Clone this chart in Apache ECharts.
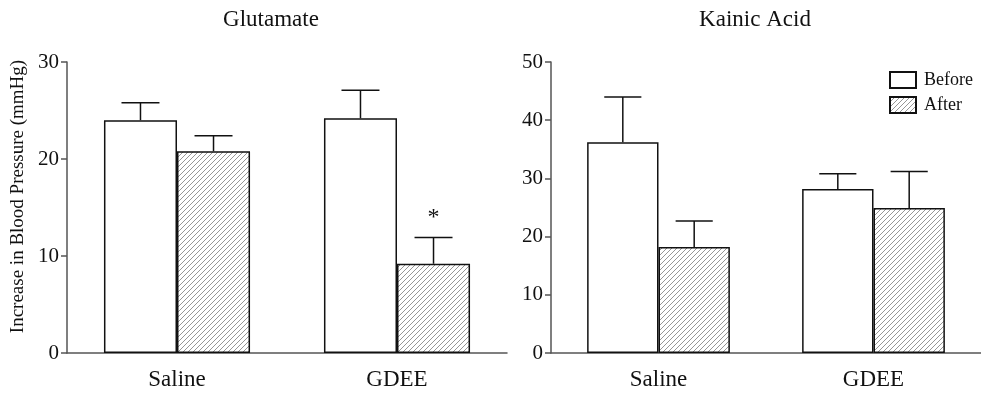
<!DOCTYPE html>
<html>
<head>
<meta charset="utf-8">
<script src="https://cdn.jsdelivr.net/npm/echarts@6/dist/echarts.min.js"></script>
<style>html,body{margin:0;padding:0;background:#fff}#c{width:981px;height:395px}</style>
</head>
<body>
<div id="c"></div>
<script>
var categories = ['Saline', 'GDEE'];
var panelTitles = ['Glutamate', 'Kainic Acid'];
var yAxisName = 'Increase in Blood Pressure (mmHg)';
var seriesNames = ['Before', 'After'];
var glutBefore = [24.0, 24.2];
var glutBeforeErr = [25.8, 27.1];
var glutAfter = [20.8, 9.2];
var glutAfterErr = [22.4, 11.9];
var glutStars = ['', '*'];
var kainBefore = [36.2, 28.2];
var kainBeforeErr = [44.0, 30.8];
var kainAfter = [18.2, 24.9];
var kainAfterErr = [22.7, 31.2];
var kainStars = ['', ''];
var leftTicks = [0, 10, 20, 30];
var rightTicks = [0, 10, 20, 30, 40, 50];

var FONT = '"Liberation Serif", "DejaVu Serif", serif';
var BAR_FRAC = 0.332;

function makeHatch() {
  var s = 5;
  var cv = document.createElement('canvas');
  cv.width = s; cv.height = s;
  var ctx = cv.getContext('2d');
  ctx.fillStyle = '#fff';
  ctx.fillRect(0, 0, s, s);
  ctx.strokeStyle = '#8a8a8a';
  ctx.lineWidth = 0.9;
  ctx.beginPath();
  ctx.moveTo(-1, s + 1); ctx.lineTo(s + 1, -1);
  ctx.moveTo(-1, 1); ctx.lineTo(1, -1);
  ctx.moveTo(s - 1, s + 1); ctx.lineTo(s + 1, s - 1);
  ctx.stroke();
  return cv;
}
var hatch = { image: makeHatch(), repeat: 'repeat' };

function errSeries(axisIdx, tops, vals, side, stars) {
  var data = tops.map(function (t, i) { return [i, vals[i], t]; });
  return {
    type: 'custom',
    xAxisIndex: axisIdx, yAxisIndex: axisIdx,
    silent: true, z: 5,
    data: data,
    renderItem: function (params, api) {
      var i = api.value(0);
      var base = api.coord([i, api.value(1)]);
      var top = api.coord([i, api.value(2)]);
      var bw = api.size([1, 0])[0] * BAR_FRAC;
      var cx = base[0] + side * bw / 2;
      var half = bw * 0.26;
      var children = [
        { type: 'line', shape: { x1: cx, y1: base[1], x2: cx, y2: top[1] }, style: { stroke: '#111', lineWidth: 1.5 } },
        { type: 'line', shape: { x1: cx - half, y1: top[1], x2: cx + half, y2: top[1] }, style: { stroke: '#111', lineWidth: 1.5 } }
      ];
      var star = stars[i];
      if (star) {
        children.push({ type: 'text', style: { text: star, x: cx, y: top[1] - 20, align: 'center', verticalAlign: 'middle', font: '24px ' + FONT, fill: '#111' } });
      }
      return { type: 'group', children: children };
    }
  };
}

function barSeries(name, axisIdx, vals, fill) {
  return {
    name: name, type: 'bar',
    xAxisIndex: axisIdx, yAxisIndex: axisIdx,
    data: vals,
    barWidth: (BAR_FRAC * 100) + '%',
    barGap: '0%',
    itemStyle: { color: fill, borderColor: '#111', borderWidth: 1.5 },
    emphasis: { disabled: true },
    z: 3
  };
}

var axisLineStyle = { color: '#555', width: 1.5 };

function xAxis(gi) {
  return {
    type: 'category', gridIndex: gi, data: categories,
    axisLine: { lineStyle: axisLineStyle },
    axisTick: { show: false },
    axisLabel: { fontFamily: FONT, fontSize: 23, color: '#111', margin: 15 }
  };
}
function yAxis(gi, ticks) {
  var o = {
    type: 'value', gridIndex: gi,
    min: ticks[0], max: ticks[ticks.length - 1], interval: ticks[1] - ticks[0],
    axisLine: { show: true, lineStyle: axisLineStyle },
    axisTick: { show: true, length: 6, lineStyle: axisLineStyle },
    splitLine: { show: false },
    axisLabel: { fontFamily: FONT, fontSize: 21, color: '#111', margin: 8 }
  };
  if (gi === 0) {
    o.name = yAxisName;
    o.nameLocation = 'middle';
    o.nameGap = 39;
    o.nameTextStyle = { fontFamily: FONT, fontSize: 19, color: '#111', padding: [0, 0, 0, 22] };
  }
  return o;
}

var chart = echarts.init(document.getElementById('c'), null, { renderer: 'canvas' });
chart.setOption({
  animation: false,
  backgroundColor: '#fff',
  title: [
    { text: panelTitles[0], left: 266, top: 3, textAlign: 'center', textStyle: { fontFamily: FONT, fontSize: 23, fontWeight: 'normal', color: '#111' } },
    { text: panelTitles[1], left: 750, top: 3, textAlign: 'center', textStyle: { fontFamily: FONT, fontSize: 23, fontWeight: 'normal', color: '#111' } }
  ],
  legend: {
    data: seriesNames,
    orient: 'vertical', left: 884, top: 66,
    itemWidth: 26, itemHeight: 16, itemGap: 7,
    icon: 'rect',
    selectedMode: false,
    textStyle: { fontFamily: FONT, fontSize: 18, color: '#111', padding: [0, 0, 0, 3] }
  },
  grid: [
    { left: 67, top: 62, width: 440, height: 291 },
    { left: 551, top: 62, width: 438, height: 291 }
  ],
  xAxis: [xAxis(0), xAxis(1)],
  yAxis: [yAxis(0, leftTicks), yAxis(1, rightTicks)],
  series: [
    barSeries(seriesNames[0], 0, glutBefore, '#fff'),
    barSeries(seriesNames[1], 0, glutAfter, hatch),
    barSeries(seriesNames[0], 1, kainBefore, '#fff'),
    barSeries(seriesNames[1], 1, kainAfter, hatch),
    errSeries(0, glutBeforeErr, glutBefore, -1, ['', '']),
    errSeries(0, glutAfterErr, glutAfter, 1, glutStars),
    errSeries(1, kainBeforeErr, kainBefore, -1, ['', '']),
    errSeries(1, kainAfterErr, kainAfter, 1, kainStars)
  ]
});
</script>
</body>
</html>
